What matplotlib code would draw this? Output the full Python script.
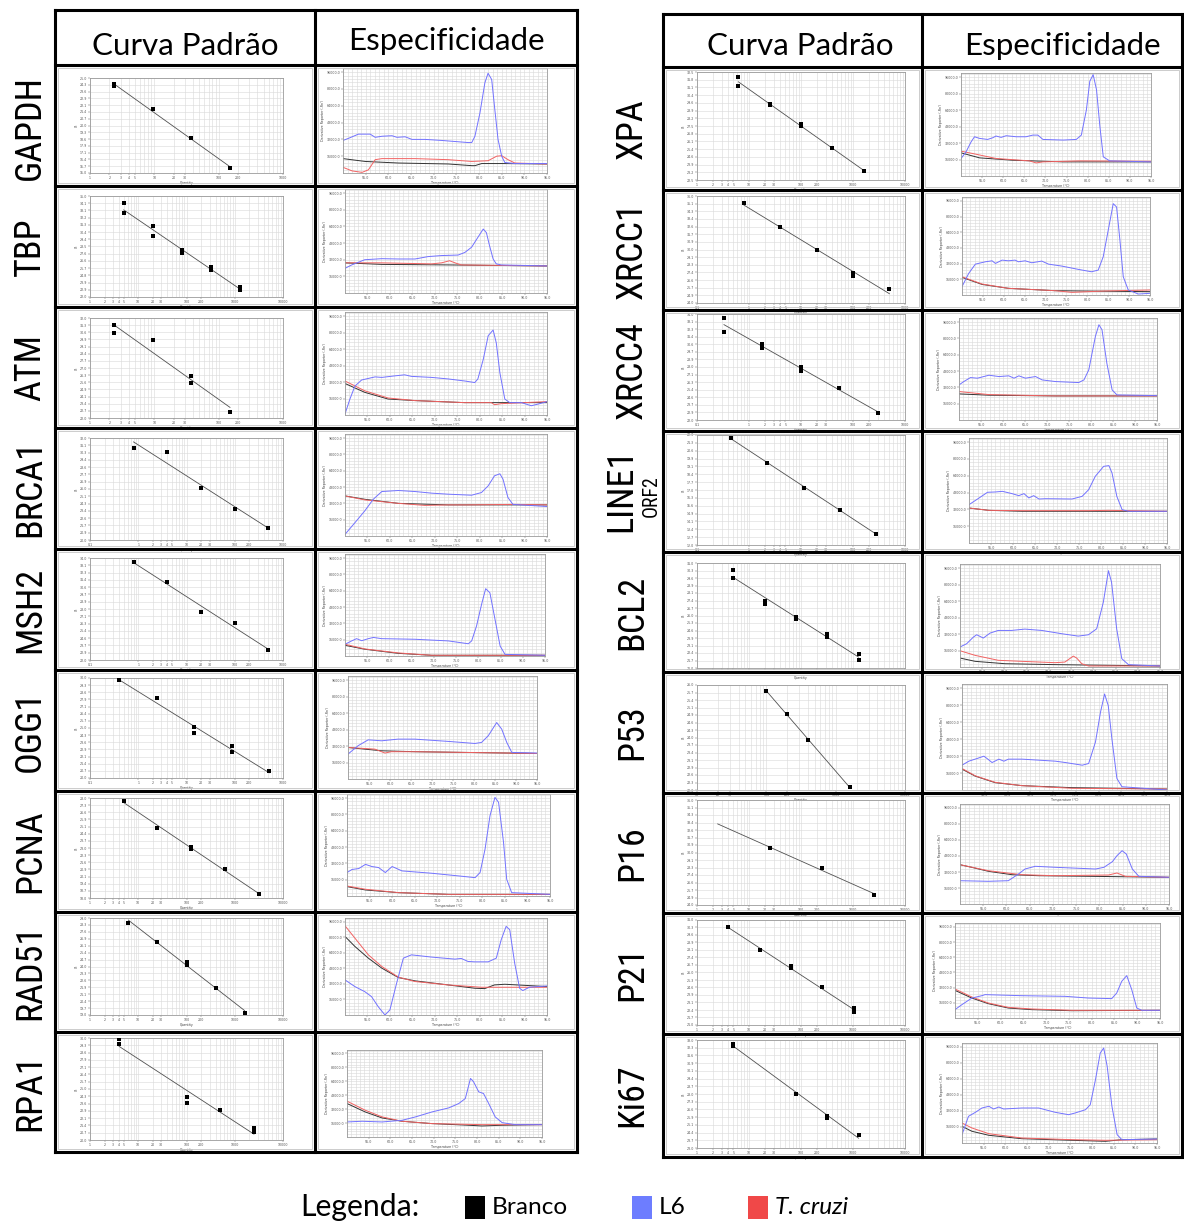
import numpy as np
import matplotlib
matplotlib.use('Agg')
import matplotlib.pyplot as plt
from matplotlib import font_manager
from matplotlib.lines import Line2D
from matplotlib.patches import Rectangle
from matplotlib.ticker import MultipleLocator, NullFormatter, FixedLocator

## Genes in each table
genes_left = ['GAPDH', 'TBP', 'ATM', 'BRCA1', 'MSH2', 'OGG1', 'PCNA', 'RAD51', 'RPA1']
genes_right = ['XPA', 'XRCC1', 'XRCC4', 'LINE1', 'BCL2', 'P53', 'P16', 'P21', 'Ki67']

## Standard curves: quantity (log scale) and Ct of each replicate
std_qty = {
    'GAPDH': [2.34, 2.34, 9.375, 37.5, 150],
    'TBP': [5, 5, 20, 20, 80, 80, 320, 320, 1280, 1280],
    'ATM': [2.34, 2.34, 9.375, 37.5, 37.5, 150],
    'BRCA1': [0.8, 4, 20, 100, 500],
    'MSH2': [0.8, 4, 20, 100, 500],
    'OGG1': [0.4, 2.4, 14.4, 14.4, 86, 86, 518],
    'PCNA': [5, 25, 125, 125, 625, 3125],
    'RAD51': [6.25, 25, 100, 100, 400, 1600],
    'RPA1': [4, 4, 100, 100, 500, 2500, 2500],
    'XPA': [6.25, 6.25, 25, 25, 100, 100, 400, 1600],
    'XRCC1': [0.8, 4, 20, 100, 100, 500],
    'XRCC4': [0.33, 0.33, 1.8, 1.8, 10, 10, 55, 300],
    'LINE1': [0.45, 2.25, 11.25, 56, 281],
    'BCL2': [5, 5, 20, 20, 80, 80, 320, 320, 1280, 1280],
    'P53': [100, 200, 400, 1600],
    'P16': [25, 250, 2500],
    'P21': [4, 16, 64, 64, 256, 1024, 1024],
    'Ki67': [5, 5, 80, 320, 320, 1280],
}
std_ct = {
    'GAPDH': [24.4, 24.2, 21.7, 18.7, 15.5],
    'TBP': [34.1, 32.8, 31.1, 29.8, 28.1, 27.7, 25.9, 25.5, 23.3, 22.9],
    'ATM': [31.3, 30.5, 29.8, 26.2, 25.5, 22.6],
    'BRCA1': [30.8, 30.3, 26.1, 23.7, 21.4],
    'MSH2': [33.5, 31.2, 27.6, 26.3, 23.2],
    'OGG1': [29.8, 28.0, 25.1, 24.5, 23.2, 22.6, 20.7],
    'PCNA': [27.7, 25.0, 23.1, 22.9, 20.9, 18.4],
    'RAD51': [28.5, 26.5, 24.5, 24.2, 21.8, 19.2],
    'RPA1': [29.9, 29.4, 24.2, 23.6, 22.9, 21.2, 20.8],
    'XPA': [32.0, 31.2, 29.5, 29.4, 27.7, 27.5, 25.5, 23.3],
    'XRCC1': [35.2, 32.5, 29.9, 27.4, 27.0, 25.6],
    'XRCC4': [33.5, 32.0, 30.6, 30.2, 28.0, 27.6, 25.6, 22.8],
    'LINE1': [21.7, 19.5, 17.2, 15.2, 13.0],
    'BCL2': [30.3, 29.6, 27.4, 27.1, 25.9, 25.7, 24.2, 24.0, 22.3, 21.8],
    'P53': [25.76, 24.9, 23.9, 22.1],
    'P16': [30.5, 28.2, 25.2],
    'P21': [30.3, 28.1, 26.6, 26.4, 24.6, 22.6, 22.2],
    'Ki67': [32.6, 32.4, 28.0, 26.0, 25.8, 24.2],
}
std_xlim = {
    'GAPDH': (1, 1000), 'TBP': (1, 10000), 'ATM': (1, 1000), 'BRCA1': (0.1, 1000),
    'MSH2': (0.1, 1000), 'OGG1': (0.1, 1000), 'PCNA': (1, 10000), 'RAD51': (1, 10000),
    'RPA1': (1, 10000), 'XPA': (1, 10000), 'XRCC1': (0.1, 1000), 'XRCC4': (0.1, 1000),
    'LINE1': (0.1, 1000), 'BCL2': (1, 10000), 'P53': (10, 10000), 'P16': (1, 10000),
    'P21': (1, 10000), 'Ki67': (1, 10000),
}
std_ylim = {
    'GAPDH': (15, 25), 'TBP': (22, 35), 'ATM': (22, 32), 'BRCA1': (20, 32),
    'MSH2': (22, 34), 'OGG1': (20, 30), 'PCNA': (18, 28), 'RAD51': (19, 29),
    'RPA1': (20, 30), 'XPA': (22.5, 32.5), 'XRCC1': (24, 36), 'XRCC4': (22, 34),
    'LINE1': (12, 22), 'BCL2': (21, 31), 'P53': (22, 26), 'P16': (24, 36),
    'P21': (21, 31), 'Ki67': (23, 33),
}
# range the fitted line is drawn over when it is wider than the points
std_fit_span = {'P16': (2.5, 2500)}

## Melt curves: (temperature C, derivative reporter x1000)
melt_l6 = {
    'GAPDH': [(50, 31), (51.2, 33), (53.4, 37), (56.0, 37), (57.1, 34), (58.6, 35), (60.8, 35.5), (61.9, 34), (63.7, 34.5), (65.2, 32), (68.1, 32), (71.8, 31), (74.7, 30), (77.6, 29), (78.4, 29), (79.1, 35), (80.2, 57), (81.3, 86), (82.0, 95), (82.8, 89), (83.5, 60), (84.2, 32), (85.0, 16), (85.7, 10), (87.9, 9), (95, 9)],
    'TBP': [(50, 23.7), (51.5, 27), (54.4, 32), (58.2, 33), (61.9, 32.7), (65.6, 32.7), (68.5, 35), (71.5, 36), (75.2, 36.5), (76.7, 39), (78.2, 44), (79.6, 53.5), (80.8, 61.5), (81.5, 58), (82.2, 45.5), (83.0, 32.7), (83.7, 28), (84.8, 27), (95, 26)],
    'ATM': [(50, 1), (51.1, 15.5), (52.2, 28), (53.7, 34), (55.2, 35.5), (56.7, 37), (58.2, 36.5), (61.1, 38), (63.3, 39), (64.8, 37.5), (69.3, 36.5), (73.0, 35), (76.7, 33), (78.9, 31.5), (79.6, 35), (80.8, 54), (81.9, 77), (83.0, 82.5), (83.7, 70), (84.5, 41), (85.6, 15.5), (86.7, 12), (89.3, 12), (91.5, 9), (93.0, 10.6), (95, 13)],
    'BRCA1': [(50, 1.6), (52.2, 13), (54.4, 24.6), (56.3, 36), (58.2, 43.6), (61.9, 44.6), (65.6, 43.6), (69.3, 42), (73.0, 41), (78.2, 40), (80.4, 42.6), (81.9, 49.2), (83.3, 59), (84.5, 61), (85.2, 55.7), (86.3, 37.7), (87.4, 31), (95, 28.9)],
    'MSH2': [(50, 11.5), (51.5, 14.8), (52.6, 17), (53.75, 15), (55.25, 17), (56.4, 18.2), (58.25, 17), (65.75, 16.4), (73.25, 14.8), (77.75, 12), (78.5, 14.8), (79.6, 29.5), (80.75, 51), (81.65, 66), (82.6, 62), (83.75, 36), (84.9, 9.8), (86, 1.6), (95, 0.7)],
    'OGG1': [(50, 24.2), (52.4, 32.3), (54.8, 38), (58.0, 37.1), (61.9, 38.7), (65.9, 38.7), (73.9, 36.5), (80.2, 34.5), (81.8, 35.5), (83.4, 42), (85.4, 54.8), (86.6, 48.4), (87.8, 35.5), (89.0, 25.8), (95, 25.2)],
    'PCNA': [(50, 23), (51.1, 26), (52.6, 26.9), (54.1, 31), (55.5, 28.9), (57.0, 27.9), (58.5, 23), (60.0, 28.9), (62.2, 24.6), (68.8, 22.3), (74.7, 19.7), (78.4, 18), (79.5, 23), (80.6, 45.9), (81.7, 78.7), (82.8, 96.7), (83.6, 91.8), (84.7, 52.5), (85.4, 16.4), (86.5, 3.3), (95, 1.6)],
    'RAD51': [(50, 36.2), (52.2, 29.3), (54.4, 24.1), (55.9, 19), (57.4, 8.6), (58.9, 0), (60.0, 5.2), (61.5, 32.8), (63.0, 58.6), (64.8, 62), (69.3, 59.7), (74.5, 57.6), (75.9, 58.3), (77.4, 55.2), (78.9, 54.8), (81.9, 54.8), (83.7, 58.6), (84.8, 77.6), (85.9, 91.4), (86.7, 87.9), (87.8, 53.4), (88.9, 27.6), (89.6, 25.2), (91.1, 28.6), (95, 30)],
    'RPA1': [(50, 17.3), (53.5, 18.1), (58.1, 17.3), (62.7, 19.2), (65.8, 23.1), (69.6, 28.8), (73.5, 33.5), (75.8, 38.5), (77.3, 44.2), (78.5, 67.3), (79.2, 63.5), (80.4, 51.9), (81.5, 50), (82.7, 38.5), (84.2, 23.1), (85.8, 16.5), (88.8, 14.2), (95, 14.2)],
    'XPA': [(50, 16.9), (51.2, 23.5), (52.4, 33.2), (53.2, 38.1), (54.4, 36.5), (56.3, 35.5), (57.5, 37.1), (58.3, 38.8), (59.5, 37.5), (60.7, 39.1), (63.1, 38.1), (65.4, 38.1), (67.0, 39.7), (68.2, 39.7), (69.4, 35.5), (74.2, 34.9), (77.3, 35.5), (78.5, 39.7), (79.7, 64.2), (80.5, 91.9), (81.3, 98.4), (82.1, 83.7), (82.9, 47.9), (83.7, 18.6), (85.2, 14.7), (95, 13.7)],
    'XRCC1': [(50, 8.5), (51.6, 22), (53.2, 31.5), (55.6, 33.9), (57.2, 34.9), (58.0, 32.2), (59.6, 35.6), (61.1, 34.9), (62.7, 35.6), (63.5, 33.9), (65.1, 34.9), (66.7, 32.9), (69.1, 34.6), (70.7, 31.5), (73.9, 29.5), (77.9, 26.1), (81.0, 23.7), (82.6, 25.4), (83.8, 39), (85.0, 66.1), (86.2, 93.2), (87.0, 89.8), (87.8, 55.9), (88.6, 18.6), (89.8, 5.1), (92.2, 1), (95, 1.7)],
    'XRCC4': [(50, 34.4), (51.1, 37.7), (52.6, 41.6), (54.2, 41), (56.8, 43.9), (59.1, 42.6), (61.3, 43.3), (62.5, 41), (63.6, 43.3), (65.1, 41), (67.4, 42.6), (68.9, 39.3), (71.9, 37.7), (77.2, 36.7), (78.4, 39.3), (79.5, 49.2), (81.0, 82), (81.8, 93.4), (82.5, 88.5), (83.6, 55.7), (84.8, 29.5), (85.9, 24.6), (95, 23.9)],
    'LINE1': [(50, 36.5), (52.3, 42.9), (54.2, 48.3), (56.0, 48.6), (57.6, 49.2), (59.8, 47), (61.3, 45.1), (62.5, 47), (63.6, 42.9), (64.7, 45.1), (65.9, 41.9), (67.4, 42.2), (73.4, 41.9), (75.7, 44.4), (77.2, 50.8), (78.7, 63.5), (80.6, 73), (81.8, 73.7), (82.5, 66.7), (83.6, 44.4), (84.8, 31.7), (86.3, 30.2), (95, 30.2)],
    'BCL2': [(50, 19.4), (51.5, 22.6), (53.0, 29), (53.75, 31.3), (55.25, 28.1), (56.75, 32.9), (58.6, 35.5), (61.6, 35.5), (64.6, 36.8), (68.4, 35.5), (72.9, 32.3), (76.6, 30), (78.9, 31.3), (80.75, 37.1), (82.25, 62.9), (83.4, 93.5), (84.1, 82.3), (85.25, 37.1), (86.4, 8.1), (87.9, 2.3), (95, 1)],
    'P53': [(50, 23.4), (51.5, 27.2), (53.3, 29.7), (54.8, 31.9), (55.5, 29.7), (56.6, 25.9), (58.1, 29.1), (59.2, 27.2), (60.2, 29.1), (63.2, 29.1), (70.5, 27.2), (72.7, 25.9), (76.4, 23.4), (77.8, 25), (79.3, 45.3), (80.4, 73.4), (81.3, 90.6), (82.1, 79.7), (82.9, 48.4), (84.0, 10.9), (85.1, 3.1), (95, 0)],
    'P16': [(50, 23.3), (56.1, 22.7), (60.4, 23.3), (62.6, 30), (64.0, 35), (66.2, 37.7), (70.5, 36.7), (74.1, 36), (79.2, 35), (81.0, 36.7), (82.8, 42.3), (83.8, 48.3), (84.9, 53.3), (85.8, 50), (87.1, 35), (88.5, 27.7), (95, 26.7)],
    'P21': [(50, 8.8), (51.5, 14), (53.7, 21), (55.9, 23.5), (56.6, 24.6), (64.6, 23.5), (74.2, 22.8), (79.3, 21), (84.4, 20.4), (85.5, 26.3), (86.6, 38.6), (87.7, 44.6), (88.8, 29.8), (89.9, 10.5), (91.0, 8.1), (95, 8.1)],
    'Ki67': [(50, 8.3), (51.5, 26.7), (53.1, 30.7), (54.6, 35), (56.2, 36.7), (57.3, 34), (58.5, 36), (59.6, 34), (63.8, 35), (67.7, 35), (71.5, 30.7), (74.6, 28.3), (76.1, 30), (78.5, 33.3), (79.6, 38.3), (80.8, 63.3), (81.9, 90), (82.7, 95), (83.5, 76.7), (84.6, 36.7), (85.8, 8.3), (86.9, 3.3), (95, 4)],
}
melt_branco = {
    'GAPDH': [(50, 13.7), (54.9, 11), (62.2, 9.5), (73.2, 8.6), (78.4, 7), (79.1, 7), (80.6, 9), (85.0, 9), (95, 8.6)],
    'TBP': [(50, 29), (58.2, 27.5), (73.0, 27), (95, 26)],
    'ATM': [(50, 30.6), (54.4, 22), (59.6, 15.5), (65.6, 14), (76.7, 12), (95, 12)],
    'BRCA1': [(50, 39.3), (54.4, 36), (61.9, 32), (73.0, 30.5), (95, 30.5)],
    'MSH2': [(50, 10.5), (54.5, 6.6), (62, 2.6), (69.5, 0.7), (95, 0.7)],
    'OGG1': [(50, 30.6), (54.0, 29), (58.0, 27.4), (65.9, 26.5), (95, 24.8)],
    'PCNA': [(50, 9.2), (54.1, 5.9), (61.4, 3.3), (72.5, 1.6), (95, 1.6)],
    'RAD51': [(50, 81), (52.2, 70.7), (55.2, 58.6), (58.2, 48.3), (61.9, 38.6), (65.6, 35.2), (73.0, 31), (78.9, 27.6), (81.1, 27.2), (83.3, 31), (85.6, 31.7), (95, 29.3)],
    'RPA1': [(50, 38.5), (54.2, 28.8), (58.1, 21.9), (62.7, 18.1), (69.6, 15.4), (78.1, 13.5), (81.1, 12.7), (85.8, 13.5), (95, 14.2)],
    'XPA': [(50, 22.5), (54.4, 17.6), (62.3, 15.3), (74.2, 13.7), (95, 13.7)],
    'XRCC1': [(50, 18), (54.8, 10.8), (61.1, 6.8), (72.3, 4.4), (95, 3.4)],
    'XRCC4': [(50, 25.6), (56.8, 24.3), (71.9, 23.6), (95, 23.6)],
    'LINE1': [(50, 33.3), (54.5, 31.1), (62.1, 30.2), (95, 30.2)],
    'BCL2': [(50, 8.7), (53.4, 5.5), (60.1, 3.2), (71.4, 2.3), (95, 1)],
    'P53': [(50, 19.7), (52.9, 13.1), (57.3, 6.9), (63.2, 4.1), (74.2, 2.2), (95, 0.9)],
    'P16': [(50, 39.3), (52.5, 36.7), (56.1, 32.7), (61.2, 29.3), (66.9, 28.3), (77.7, 27.7), (95, 26.7)],
    'P21': [(50, 29.1), (53.7, 21), (57.3, 15.1), (61.7, 10.5), (66.8, 8.8), (75.6, 7.7), (95, 8.1)],
    'Ki67': [(50, 16.7), (52.3, 11.7), (56.2, 7.7), (63.8, 4.3), (75.4, 2.7), (83.1, 1.7), (86.9, 3.3), (95, 4)],
}
melt_tcruzi = {
    'GAPDH': [(50, 5.4), (52.0, 2), (54.2, 0.6), (55.6, 3), (57.1, 12.7), (58.6, 13.7), (65.9, 13.7), (73.2, 12.7), (78.4, 11), (82.0, 11.7), (83.9, 16), (85.0, 16.5), (86.4, 12.7), (87.9, 9.5), (95, 8.6)],
    'TBP': [(50, 29), (58.2, 29), (69.3, 28), (71.5, 29), (73.3, 31), (74.5, 29), (75.9, 27), (95, 26)],
    'ATM': [(50, 33), (54.4, 23.5), (59.6, 16.5), (65.6, 14), (76.7, 12), (82.6, 12), (83.3, 10), (84.8, 11), (95, 13)],
    'BRCA1': [(50, 39.3), (54.4, 35.4), (61.9, 32), (67.8, 30), (73.0, 30.5), (77.4, 30.5), (87.8, 31), (95, 30.5)],
    'MSH2': [(50, 11.5), (54.5, 6.9), (62, 3), (69.5, 0.7), (95, 0.7)],
    'OGG1': [(50, 30.6), (56.4, 29), (58.8, 25.2), (60.3, 26.5), (65.9, 26.5), (95, 24.8)],
    'PCNA': [(50, 9.8), (54.1, 6.6), (61.4, 3.3), (72.5, 1.6), (95, 1.6)],
    'RAD51': [(50, 92), (52.2, 79.3), (55.2, 62), (58.2, 50), (61.9, 39), (65.6, 34.5), (73.0, 31), (80.4, 28.6), (95, 28.6)],
    'RPA1': [(50, 41.2), (54.2, 30.8), (58.1, 23.1), (62.7, 18.1), (69.6, 15.4), (81.1, 14.2), (95, 14.2)],
    'XPA': [(50, 24.1), (52.8, 21.8), (58.3, 17), (66.2, 14.7), (67.8, 12.7), (69.4, 13.7), (78.1, 14.7), (95, 14.3)],
    'XRCC1': [(50, 18.6), (54.8, 11.2), (61.1, 6.8), (72.3, 4.4), (76.3, 2.7), (84.2, 4.1), (95, 5.1)],
    'XRCC4': [(50, 27.9), (56.8, 24.9), (71.9, 23.6), (95, 23.6)],
    'LINE1': [(50, 33.3), (54.5, 31.1), (62.1, 30.8), (77.2, 30.8), (81.8, 31.1), (95, 30.2)],
    'BCL2': [(50, 15.8), (53.4, 11.3), (58.6, 6.5), (63.9, 5.5), (71.4, 4.2), (73.6, 4.8), (75.5, 10.6), (76.25, 8.7), (77.4, 3.2), (78.9, 1), (95, 1)],
    'P53': [(50, 20.3), (52.9, 13.4), (57.3, 7.2), (63.2, 4.1), (74.2, 1.6), (95, 0.9)],
    'P16': [(50, 39.3), (56.1, 33.3), (63.3, 29.3), (70.5, 28.3), (82.0, 29), (83.8, 31), (85.6, 27.7), (95, 26.7)],
    'P21': [(50, 30.5), (53.7, 22.1), (57.3, 15.8), (61.7, 11.2), (66.8, 9.5), (75.6, 8.1), (95, 8.1)],
    'Ki67': [(50, 20), (52.3, 15), (56.2, 9.3), (63.8, 5), (75.4, 3.3), (83.1, 2.7), (95, 3.3)],
}

## Page layout in pixels (x0, y0, x1, y1), y measured from the top
W, H = 1184, 1222
rows_left = [65, 186, 307, 428, 549, 670, 791, 912, 1032, 1152]
rows_right = [67, 190, 310, 431, 552, 672, 793, 913, 1034, 1157]
std_box = {
    'GAPDH': (90, 78, 283, 173), 'TBP': (90, 196, 283, 297), 'ATM': (90, 318, 283, 418),
    'BRCA1': (90, 438, 283, 540), 'MSH2': (90, 558, 283, 660), 'OGG1': (90, 678, 283, 778),
    'PCNA': (90, 798, 283, 898), 'RAD51': (90, 918, 283, 1015), 'RPA1': (90, 1038, 283, 1140),
    'XPA': (697, 72, 905, 180), 'XRCC1': (697, 196, 905, 303), 'XRCC4': (697, 314, 905, 420),
    'LINE1': (697, 435, 905, 545), 'BCL2': (697, 563, 905, 668), 'P53': (697, 685, 905, 790),
    'P16': (697, 800, 905, 905), 'P21': (697, 920, 905, 1025), 'Ki67': (697, 1040, 905, 1148),
}
melt_box = {
    'GAPDH': (343, 68, 547, 173), 'TBP': (345, 189, 547, 293), 'ATM': (345, 312, 547, 415),
    'BRCA1': (345, 434, 547, 536), 'MSH2': (345, 554, 545, 656), 'OGG1': (348, 676, 537, 779),
    'PCNA': (347, 794, 550, 896), 'RAD51': (345, 918, 547, 1015), 'RPA1': (347, 1050, 542, 1137),
    'XPA': (961, 73, 1151, 176), 'XRCC1': (962, 197, 1150, 295), 'XRCC4': (959, 318, 1157, 420),
    'LINE1': (969, 438, 1167, 543), 'BCL2': (960, 564, 1160, 667), 'P53': (962, 684, 1167, 790),
    'P16': (960, 804, 1169, 904), 'P21': (955, 923, 1160, 1018), 'Ki67': (962, 1043, 1157, 1143),
}

c_branco = '#333333'
c_l6 = '#7272ff'
c_tcruzi = '#f26262'
grid_col = '#d9d9d9'
frame_col = '#9a9a9a'
tiny = 2.3

fig = plt.figure(figsize=(W / 100, H / 100), dpi=100)
fig.patch.set_facecolor('white')
renderer = fig.canvas.get_renderer()


def fx(x):
    return x / W


def fy(y):
    return 1 - y / H


def axes_px(x0, y0, x1, y1):
    return fig.add_axes([fx(x0), fy(y1), (x1 - x0) / W, (y1 - y0) / H])


def line_px(xs, ys, lw=2.2, color='black'):
    fig.add_artist(Line2D([fx(x) for x in xs], [fy(y) for y in ys], color=color,
                          lw=lw, transform=fig.transFigure, solid_capstyle='projecting'))


def fit_size(t, length_px):
    bb = t.get_window_extent(renderer)
    size = bb.height if t.get_rotation() == 90 else bb.width
    return t.get_fontsize() * length_px / size


def narrow_font():
    entries = font_manager.fontManager.ttflist
    regular = (400, 'normal', 'regular', 'book')
    for want in ('Liberation Sans Narrow', 'Roboto Condensed', 'Open Sans Condensed', 'Noto Sans Condensed'):
        for f in entries:
            if f.name == want and f.style == 'normal' and f.weight in regular:
                return font_manager.FontProperties(fname=f.fname)
    for f in entries:
        if f.stretch in ('condensed', 'semi-condensed') and f.style == 'normal' and f.weight in regular:
            return font_manager.FontProperties(fname=f.fname)
    return font_manager.FontProperties(family='Roboto')


def style_axes(ax):
    for s in ax.spines.values():
        s.set_color(frame_col)
        s.set_linewidth(0.6)
    ax.tick_params(which='both', labelsize=tiny, length=1.2, width=0.3, pad=0.8, colors='#555555')
    ax.tick_params(which='minor', length=0)
    ax.set_axisbelow(True)


def std_plot(ax, gene):
    q = np.array(std_qty[gene], dtype=float)
    c = np.array(std_ct[gene], dtype=float)
    slope, icpt = np.polyfit(np.log10(q), c, 1)
    lo, hi = std_fit_span.get(gene, (q.min(), q.max()))
    xs = np.array([lo, hi])
    ax.plot(xs, slope * np.log10(xs) + icpt, color='#505050', lw=0.6, zorder=2)
    ax.scatter(q, c, marker='s', s=7, color='black', linewidths=0, zorder=3)
    ax.set_xscale('log')
    x0, x1 = std_xlim[gene]
    y0, y1 = std_ylim[gene]
    ax.set_xlim(x0, x1)
    ax.set_ylim(y0, y1)
    ticks = [v for v in (0.1, 1, 2, 3, 4, 5, 10, 20, 30, 100, 200, 1000, 10000) if x0 <= v <= x1]
    ax.xaxis.set_major_locator(FixedLocator(ticks))
    ax.set_xticklabels([('%g' % v) for v in ticks])
    ax.xaxis.set_minor_formatter(NullFormatter())
    yt = np.linspace(y0, y1, 15)
    ax.set_yticks(yt)
    ax.set_yticklabels(['%.1f' % v for v in yt])
    ax.grid(which='both', color=grid_col, lw=0.4)
    ax.set_xlabel('Quantity', fontsize=tiny, labelpad=0.8, color='#444444')
    ax.set_ylabel('Ct', fontsize=tiny, labelpad=1.0, color='#444444')
    style_axes(ax)


def melt_plot(ax, gene):
    for series, col in ((melt_branco, c_branco), (melt_tcruzi, c_tcruzi), (melt_l6, c_l6)):
        t, v = zip(*series[gene])
        ax.plot(t, v, color=col, lw=0.7)
    ax.set_xlim(50, 95)
    ax.set_ylim(0, 100)
    xt = np.arange(55, 96, 5)
    ax.set_xticks(xt)
    ax.set_xticklabels(['%.1f' % v for v in xt])
    ax.xaxis.set_minor_locator(MultipleLocator(1))
    yt = np.arange(16, 100, 16)
    ax.set_yticks(yt)
    ax.set_yticklabels(['%.1f' % (v * 1000) for v in yt])
    ax.yaxis.set_minor_locator(MultipleLocator(3.2))
    ax.grid(which='both', color=grid_col, lw=0.4)
    ax.set_xlabel('Temperature (\u00b0C)', fontsize=tiny, labelpad=0.8, color='#444444')
    ax.set_ylabel("Derivative Reporter (-Rn')", fontsize=tiny, labelpad=1.0, color='#444444')
    style_axes(ax)


## Plots
for gene in genes_left + genes_right:
    std_plot(axes_px(*std_box[gene]), gene)
    melt_plot(axes_px(*melt_box[gene]), gene)

## Table frames
for rows, xl, xm, xr, top in ((rows_left, 55, 315, 577, 10), (rows_right, 663, 922, 1182, 14)):
    for y0, y1 in zip(rows[:-1], rows[1:]):
        for a, b in ((xl, xm), (xm, xr)):
            fig.add_artist(Rectangle((fx(a + 3), fy(y1 - 3)), (b - a - 6) / W, (y1 - y0 - 6) / H,
                                     transform=fig.transFigure, fill=False, ec='#c4c4c4', lw=0.6))
    for y in [top] + rows:
        line_px([xl, xr], [y, y])
    for x in (xl, xm, xr):
        line_px([x, x], [top, rows[-1]])

## Column headers
head_font = 'Lato'
t = fig.text(fx(185), fy(46), 'Curva Padr\u00e3o', ha='center', va='center', fontsize=20, family=head_font)
head_size = fit_size(t, 187)
t.set_fontsize(head_size)
fig.text(fx(446), fy(41), 'Especificidade', ha='center', va='center', fontsize=head_size, family=head_font)
fig.text(fx(800), fy(46), 'Curva Padr\u00e3o', ha='center', va='center', fontsize=head_size, family=head_font)
fig.text(fx(1062), fy(46), 'Especificidade', ha='center', va='center', fontsize=head_size, family=head_font)

## Row labels
lab_fp = narrow_font()
t = fig.text(fx(30), fy(127), 'GAPDH', rotation=90, ha='center', va='center', fontproperties=lab_fp, fontsize=20)
lab_size = fit_size(t, 105)
t.set_fontsize(lab_size)
for gene, y0, y1 in zip(genes_left[1:], rows_left[1:-1], rows_left[2:]):
    fig.text(fx(30), fy((y0 + y1) / 2), gene, rotation=90, ha='center', va='center',
             fontproperties=lab_fp, fontsize=lab_size)
for gene, y0, y1 in zip(genes_right, rows_right[:-1], rows_right[1:]):
    if gene == 'LINE1':
        fig.text(fx(621), fy(490), gene, rotation=90, ha='center', va='center',
                 fontproperties=lab_fp, fontsize=lab_size)
        fig.text(fx(651), fy(496), 'ORF2', rotation=90, ha='center', va='center',
                 fontproperties=lab_fp, fontsize=lab_size * 0.55)
    else:
        fig.text(fx(632), fy((y0 + y1) / 2), gene, rotation=90, ha='center', va='center',
                 fontproperties=lab_fp, fontsize=lab_size)

## Legend
t = fig.text(fx(300), fy(1207), 'Legenda:', ha='left', va='center', fontsize=20, family=head_font)
t.set_fontsize(fit_size(t, 120))
leg_items = [('Branco', '#000000', 465, 'normal'), ('L6', '#6d7dff', 632, 'normal'), ('T. cruzi', '#f04848', 748, 'italic')]
t = fig.text(fx(492), fy(1208), 'Branco', ha='left', va='center', fontsize=20, family=head_font)
leg_size = fit_size(t, 76)
t.remove()
for name, col, x, style in leg_items:
    fig.add_artist(Rectangle((fx(x), fy(1219)), 20 / W, 23 / H, transform=fig.transFigure,
                             color=col, lw=0))
    fig.text(fx(x + 27), fy(1208), name, ha='left', va='center', fontsize=leg_size,
             family=head_font, style=style)

fig.savefig('out.png', dpi=100, facecolor='white')
